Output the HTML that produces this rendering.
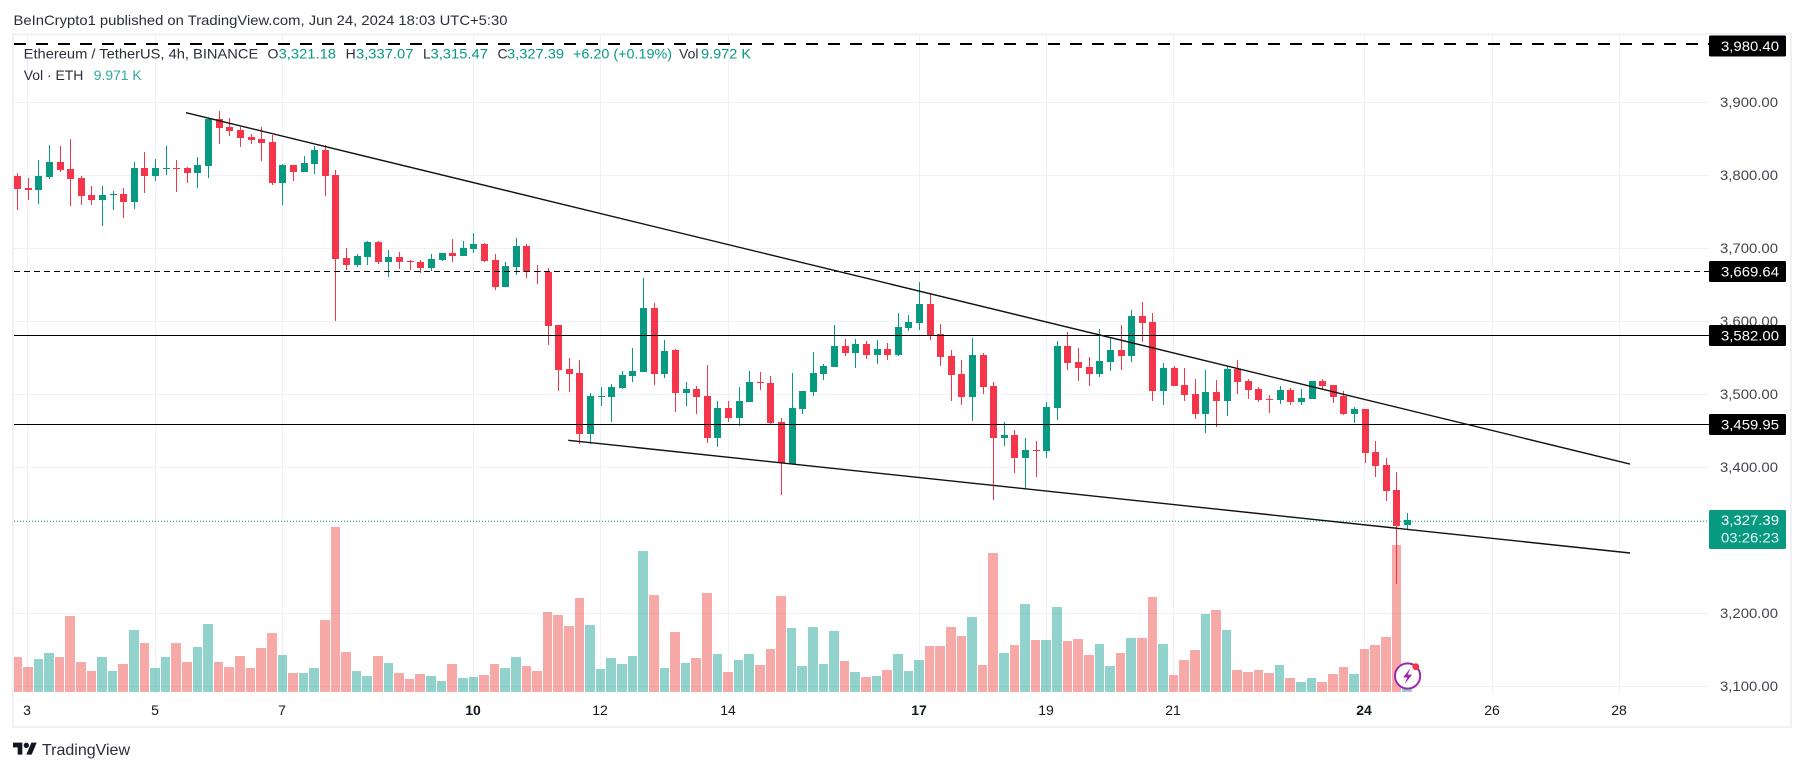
<!DOCTYPE html>
<html lang="en">
<head>
<meta charset="utf-8">
<title>ETH/USDT 4h chart</title>
<style>
  html,body{margin:0;padding:0;background:#fff;}
  body{width:1804px;height:771px;overflow:hidden;}
  svg{display:block;font-family:"Liberation Sans",sans-serif;}
</style>
</head>
<body>
<svg id="chart" width="1804" height="771" viewBox="0 0 1804 771" xmlns="http://www.w3.org/2000/svg">
  <defs>
    <clipPath id="plot-clip"><rect x="14" y="35" width="1695" height="670"></rect></clipPath>
  </defs>
  <rect x="0" y="0" width="1804" height="771" fill="#ffffff"></rect>
  <text x="13.5" y="25" font-size="14" fill="#2a2e39" textLength="494" lengthAdjust="spacingAndGlyphs">BeInCrypto1 published on TradingView.com, Jun 24, 2024 18:03 UTC+5:30</text>
  <rect x="13" y="34.3" width="1778" height="692.7" fill="#ffffff" stroke="#f0f0f6" stroke-width="2"></rect>

  <g id="grid-layer"></g>
  <g clip-path="url(#plot-clip)">
    <g id="volume-layer"></g>
    <g id="candle-layer"></g>
    <g id="drawing-layer"></g>
  </g>
  <g id="price-axis"></g>
  <g id="time-axis"></g>

  <g font-size="14">
    <text x="23.7" y="58.5" fill="#2a2e39" textLength="234.6" lengthAdjust="spacingAndGlyphs">Ethereum / TetherUS, 4h, BINANCE</text>
    <text x="267.5" y="58.5" fill="#2a2e39">O</text>
    <text x="278.6" y="58.5" fill="#089981" textLength="57.4" lengthAdjust="spacingAndGlyphs">3,321.18</text>
    <text x="345.6" y="58.5" fill="#2a2e39">H</text>
    <text x="356" y="58.5" fill="#089981" textLength="57.4" lengthAdjust="spacingAndGlyphs">3,337.07</text>
    <text x="423" y="58.5" fill="#2a2e39">L</text>
    <text x="430.5" y="58.5" fill="#089981" textLength="57.4" lengthAdjust="spacingAndGlyphs">3,315.47</text>
    <text x="497.5" y="58.5" fill="#2a2e39">C</text>
    <text x="507" y="58.5" fill="#089981" textLength="57" lengthAdjust="spacingAndGlyphs">3,327.39</text>
    <text x="573" y="58.5" fill="#089981" textLength="99" lengthAdjust="spacingAndGlyphs">+6.20 (+0.19%)</text>
    <text x="679" y="58.5" fill="#2a2e39">Vol</text>
    <text x="701" y="58.5" fill="#089981" textLength="50" lengthAdjust="spacingAndGlyphs">9.972 K</text>
    <text x="23.7" y="80" fill="#2a2e39" textLength="59.7" lengthAdjust="spacingAndGlyphs">Vol · ETH</text>
    <text x="93.8" y="80" fill="#2eab9c" textLength="47.8" lengthAdjust="spacingAndGlyphs">9.971 K</text>
  </g>

  <g>
    <circle cx="1407.6" cy="676" r="12.6" fill="#ffffff" stroke="#9c27b0" stroke-width="2"></circle>
    <path d="M1410.6 668 L1403 677.5 L1407.4 677.5 L1404.6 684 L1412.2 674.6 L1407.8 674.6 Z" fill="#9c27b0"></path>
    <circle cx="1415.8" cy="666.7" r="3.4" fill="#f23645"></circle>
  </g>

  <g>
    <g transform="translate(13 740) scale(0.667)" fill="#131722">
      <path d="M14 22H7V11H0V4h14v18zM28 22h-8l7.5-18h8L28 22z"></path>
      <circle cx="20" cy="8" r="4"></circle>
    </g>
    <text x="42" y="755" font-size="16" fill="#2a2e39" textLength="88" lengthAdjust="spacingAndGlyphs">TradingView</text>
  </g>
</svg>

<script>
// Candle data, in USDT, oldest bar first
const opens = [3799.1,3782.7,3779.9,3797.7,3818.3,3808.7,3796.4,3773.1,3766.2,3773.1,3774.4,3763.5,3810.1,3799.1,3808.7,3810.1,3810.1,3803.2,3812.8,3877.2,3866.2,3862.1,3852.5,3849.8,3845.7,3789.5,3814.2,3804.6,3815.5,3834.7,3800.5,3686.8,3677.2,3688.2,3708.7,3681.3,3688.2,3682.7,3681.3,3673.1,3684.1,3693.6,3689.5,3699.1,3706,3684.1,3647.1,3674.5,3703.2,3669,3667.6,3595,3534.7,3529.3,3445.7,3496.4,3496.4,3508.7,3525.2,3530.6,3618.3,3527.9,3560.8,3501.8,3507.3,3497.7,3440.2,3481.3,3467.6,3489.5,3516.9,3515.5,3462.1,3404.6,3479.9,3503.2,3527.8,3537.4,3566.2,3556.6,3568.9,3553.9,3562.1,3553.9,3590.8,3597.7,3623.7,3582.6,3552.5,3527.8,3496.3,3553.9,3511.4,3440.2,3444.3,3412.8,3423.7,3422.4,3481.3,3566.2,3544.3,3537.4,3527.8,3544.3,3560.7,3552.5,3607.3,3599.1,3504.5,3536.1,3512.8,3500.4,3473,3503.2,3490.9,3534.7,3518.2,3507.3,3493.6,3492.2,3505.9,3489.5,3493.6,3518.2,3512.8,3497.7,3473,3479.9,3421,3403.2,3368.9,3321.18];
const highs = [3803.2,3796.4,3821,3841.6,3840.2,3849.8,3799.1,3785.4,3785.4,3778.5,3782.7,3818.3,3832,3822.4,3840.2,3821,3811,3825.1,3877.2,3888.1,3878.5,3866.2,3856.6,3866.2,3855.3,3815.5,3814.2,3826.5,3840.2,3841.6,3807.3,3700,3692.3,3710.1,3710.1,3697.8,3695,3684.1,3684.1,3692.3,3693.6,3712.8,3710.1,3721,3707.3,3692.3,3681.3,3714.2,3706,3677.2,3673.1,3595,3549.8,3547.1,3501.9,3510.1,3514.2,3532,3563.5,3659.4,3625.2,3574.5,3562.1,3516.9,3511.4,3540.2,3490.9,3490.9,3510,3531.9,3530.6,3525.1,3467.6,3529.2,3504.6,3558,3541.5,3595,3575.8,3575.8,3573,3574.4,3570.3,3611.4,3608.7,3653.9,3637.4,3596.3,3560.7,3547,3577.2,3556.6,3516.9,3462.1,3451.1,3440.2,3436.1,3489.5,3573,3585.4,3563.5,3551.1,3589.5,3577.1,3595,3615.5,3626.5,3611.4,3542.9,3538.8,3536.1,3521,3533.3,3519.6,3538.8,3547,3521,3510,3499.1,3511.4,3508.7,3507.3,3518.2,3521,3512.8,3504.5,3482.6,3479.9,3436.1,3412.8,3393.6,3337.07];
const lows = [3752.5,3766.2,3760.7,3795,3804.6,3758,3759.4,3759.4,3730.6,3752.5,3741.6,3753.9,3775.8,3792.2,3800.5,3777.2,3789.5,3782.7,3796.4,3842.9,3853.9,3838.8,3842.9,3819.6,3786.8,3759.4,3792.2,3804.6,3801.8,3771.7,3600.5,3670.4,3674.5,3677.2,3678.6,3660.8,3671.7,3670.4,3666.2,3669,3682.7,3681.3,3689.5,3693.6,3681.3,3643,3647.1,3663.5,3659.4,3651.2,3567.6,3504.6,3503.2,3432,3432,3484.1,3462.1,3507.4,3516.9,3530.6,3512.8,3522.4,3475.8,3484,3473,3433.3,3427.8,3462.1,3456.6,3489.5,3505.9,3459.3,3362.1,3404.6,3473,3497.7,3519.6,3537.4,3552.5,3536.1,3548.4,3541.5,3547,3552.5,3586.7,3588.1,3574.4,3538.8,3490.9,3485.4,3463.5,3500.4,3355.2,3429.2,3392.2,3370.3,3386.7,3412.8,3464.8,3533.3,3518.2,3511.4,3523.7,3531.9,3533.3,3544.3,3571.7,3490.9,3485.4,3511.4,3490.9,3466.2,3447,3455.2,3470.3,3500.4,3493.6,3489.5,3474.4,3486.7,3485.4,3485.4,3493.6,3507.3,3488.1,3471.7,3460.7,3405.9,3386.7,3353.9,3240.2,3315.47];
const closes = [3781.3,3779.9,3799.1,3818.3,3807.3,3795,3771.7,3766.2,3773.1,3774.4,3763.5,3810.1,3799.1,3810.1,3810.1,3808.7,3803.2,3814.2,3877.2,3864.8,3860.7,3851.1,3848.4,3844.3,3789.5,3814.2,3804.6,3816.9,3834.7,3799.1,3685.4,3677.2,3689.5,3708.7,3681.3,3688.2,3681.3,3682,3673.1,3685.4,3693.6,3689.5,3700.5,3706,3682.7,3647.1,3675.8,3703.2,3667.6,3667.6,3593.6,3533.4,3527.9,3445.7,3497.8,3497.8,3510.1,3526.5,3532,3618.3,3527.9,3559.4,3501.9,3507.3,3496.3,3440.2,3481.3,3467.6,3490.9,3516.9,3516,3460.7,3405.9,3481.3,3504.6,3529.2,3538.8,3566.2,3556.6,3568.9,3553.9,3562.1,3553.9,3592.2,3599.1,3623.7,3579.9,3551.1,3526.5,3496.3,3553.9,3510,3440.2,3444.3,3412.8,3423.7,3422.4,3482.6,3566.2,3542.9,3536.1,3527.8,3545.6,3560.7,3552.5,3607.3,3597.7,3504.5,3536.1,3511.4,3499.1,3473,3503.2,3490.9,3534.7,3516.9,3505.9,3492.2,3492.2,3505.9,3489.5,3495,3518.2,3511.4,3496.3,3473,3479.9,3419.6,3401.8,3367.6,3319.6,3327.39];
// Traded volume per bar, thousands of ETH
const volumes = [105,75,99,117,105,228,90,63,105,63,84,186,147,72,105,147,90,135,204,90,75,108,72,132,177,111,57,57,72,216,495,120,63,48,108,87,57,39,54,48,33,84,42,45,51,84,72,105,78,63,240,231,198,282,201,69,102,84,108,423,291,72,180,87,102,297,114,60,96,114,81,129,288,192,78,195,84,183,93,60,45,48,66,114,63,96,138,138,195,168,225,81,417,117,141,264,156,156,255,153,159,111,144,78,117,162,162,285,144,51,96,126,234,246,186,66,60,66,57,81,42,30,42,30,54,75,54,129,141,165,441,9.971];

// Axis labels
const priceTicks = [3900,3800,3700,3600,3500,3400,3200,3100];
const priceTickLabels = ["3,900.00","3,800.00","3,700.00","3,600.00","3,500.00","3,400.00","3,200.00","3,100.00"];
const dayLabels = ["3","5","7","10","12","14","17","19","21","24","26","28"];
const dayBarIndex = [1,13,25,43,55,67,85,97,109,127,139,151];
const dayLabelWeight = ["normal","normal","normal","bold","normal","normal","bold","normal","normal","bold","normal","normal"];

// Drawn levels
const thickDashedLevel = 3980.40;
const thinDashedLevel = 3669.64;
const solidLevels = [3582.00, 3459.95];
const lastPrice = 3327.39;
const countdownText = "03:26:23";

// Trend lines: bar index and price at each end
const upperTrendBars = [15.87, 151.97];
const upperTrendPrices = [3885.8, 3404.5];
const lowerTrendBars = [51.9, 151.97];
const lowerTrendPrices = [3437, 3282.6];

const SVGNS = "http://www.w3.org/2000/svg";
const PRICE_REF = 3900, PRICE_REF_Y = 102.3, PX_PER_USD = 0.73;
const BAR0_X = 17.6, BAR_STEP = 10.61;
const VOL_BASE_Y = 692, VOL_PX_PER_K = 1 / 3;
const PLOT_L = 14, PLOT_R = 1709, PLOT_T = 35, PLOT_B = 694;
const RED = "#f5364a", GREEN = "#089981";

function yScale(p) { return PRICE_REF_Y + (PRICE_REF - p) * PX_PER_USD; }
function xScale(i) { return BAR0_X + BAR_STEP * i; }
function volH(v) { return v * VOL_PX_PER_K; }
function make(tag, attrs, parent) {
  const el = document.createElementNS(SVGNS, tag);
  for (const k in attrs) el.setAttribute(k, attrs[k]);
  parent.appendChild(el);
  return el;
}
function rowY(p) { return Math.floor(yScale(p) + 0.8) + 0.5; }

const gridLayer = document.getElementById("grid-layer");
const volumeLayer = document.getElementById("volume-layer");
const candleLayer = document.getElementById("candle-layer");
const drawingLayer = document.getElementById("drawing-layer");
const priceAxis = document.getElementById("price-axis");
const timeAxis = document.getElementById("time-axis");

// Horizontal grid + price tick labels
priceTicks.forEach(function (p, k) {
  const gy = Math.floor(yScale(p)) + 0.5;
  const gl = make("line", { x1: PLOT_L, x2: PLOT_R, y1: gy, y2: gy, stroke: "#f0f1f5", "stroke-width": 1 }, gridLayer);
  
  
  const t = make("text", { x: 1720, y: yScale(p) + 4.6, "font-size": 14, fill: "#42454f", textLength: 58, lengthAdjust: "spacingAndGlyphs" }, priceAxis);
  t.textContent = priceTickLabels[k];
  
  
});

// Vertical grid + day labels
dayLabels.forEach(function (d, k) {
  const gx = Math.round(xScale(dayBarIndex[k]) - 0.8) + 0.5;
  const gl = make("line", { x1: gx, x2: gx, y1: PLOT_T, y2: PLOT_B, stroke: "#f0f1f5", "stroke-width": 1 }, gridLayer);
  
  
  const t = make("text", { x: gx - 0.5, y: 715, "font-size": 14, fill: "#131722", "text-anchor": "middle", "font-weight": dayLabelWeight[k] }, timeAxis);
  t.textContent = d;
  
  
});

// Volume bars
volumes.forEach(function (v, i) {
  const x = xScale(i);
  const left = Math.round(x - 5.3);
  const next = Math.round(x + BAR_STEP - 5.3);
  const up = closes[i] >= opens[i];
  const h = volH(v);
  const r = make("rect", { x: left, y: VOL_BASE_Y - h, width: next - left - 1, height: h, fill: up ? "#26a69a" : "#ef5350", "fill-opacity": 0.5 }, volumeLayer);
  
  
});

// Candles
opens.forEach(function (o, i) {
  const c = closes[i];
  const up = c >= o;
  const col = up ? GREEN : RED;
  const left = Math.round(xScale(i) - 3.5);
  const top = Math.round(yScale(Math.max(o, c)));
  const bot = Math.round(yScale(Math.min(o, c)));
  const wt = Math.round(yScale(highs[i]));
  const wb = Math.round(yScale(lows[i]));
  const w = make("rect", { x: left + 3, y: wt, width: 1, height: Math.max(1, wb - wt), fill: col }, candleLayer);
  
  
  const b = make("rect", { x: left, y: top, width: 7, height: Math.max(1, bot - top), fill: col }, candleLayer);
  
  
});

// Horizontal drawings
const thick = make("line", { x1: PLOT_L, x2: PLOT_R, y1: yScale(thickDashedLevel) + 0.4, y2: yScale(thickDashedLevel) + 0.4, stroke: "#000", "stroke-width": 2, "stroke-dasharray": "12 10" }, drawingLayer);


const thin = make("line", { x1: PLOT_L, x2: PLOT_R, y1: rowY(thinDashedLevel), y2: rowY(thinDashedLevel), stroke: "#000", "stroke-width": 1, "stroke-dasharray": "6 4" }, drawingLayer);


solidLevels.forEach(function (p) {
  const l = make("line", { x1: PLOT_L, x2: PLOT_R, y1: rowY(p), y2: rowY(p), stroke: "#000", "stroke-width": 1 }, drawingLayer);
  
  
});
const lastLine = make("line", { x1: PLOT_L, x2: PLOT_R, y1: rowY(lastPrice) - 0.8 + 0.5, y2: rowY(lastPrice) - 0.8 + 0.5, stroke: GREEN, "stroke-width": 1, "stroke-dasharray": "1 2" }, drawingLayer);



// Trend lines
const upperTrend = make("line", { x1: xScale(upperTrendBars[0]), y1: yScale(upperTrendPrices[0]), x2: xScale(upperTrendBars[1]), y2: yScale(upperTrendPrices[1]), stroke: "#111", "stroke-width": 1.4 }, drawingLayer);


const lowerTrend = make("line", { x1: xScale(lowerTrendBars[0]), y1: yScale(lowerTrendPrices[0]), x2: xScale(lowerTrendBars[1]), y2: yScale(lowerTrendPrices[1]), stroke: "#111", "stroke-width": 1.4 }, drawingLayer);



// Price axis badges
function fmt(p) { return p.toFixed(2).replace(/\B(?=(\d{3})(?!\d))(?=\d{1,3}\.)/, ","); }
[thickDashedLevel, thinDashedLevel].concat(solidLevels).forEach(function (p) {
  const cy = rowY(p) + (p === thickDashedLevel ? 1.5 : 0);
  const r = make("rect", { x: 1709, y: cy - 10.5, width: 77, height: 21, rx: 1.5, fill: "#000" }, priceAxis);
  
  
  const t = make("text", { x: 1721, y: cy + 4.8, "font-size": 14, fill: "#fff", textLength: 58, lengthAdjust: "spacingAndGlyphs" }, priceAxis);
  t.textContent = fmt(p);
  
  
});
const ly = Math.floor(yScale(lastPrice));
const lastBox = make("rect", { x: 1709, y: ly - 10, width: 77, height: 39, rx: 1.5, fill: GREEN }, priceAxis);


const lastText = make("text", { x: 1721, y: ly + 5, "font-size": 14, fill: "#fff", textLength: 58, lengthAdjust: "spacingAndGlyphs" }, priceAxis);
lastText.textContent = fmt(lastPrice);


const cdText = make("text", { x: 1721, y: ly + 22.5, "font-size": 14, fill: "#e4f5f1", textLength: 58, lengthAdjust: "spacingAndGlyphs" }, priceAxis);
cdText.textContent = countdownText;


</script>
</body>
</html>
